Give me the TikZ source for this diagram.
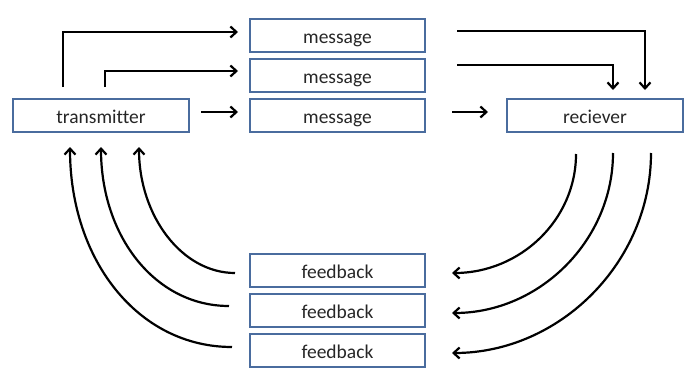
\documentclass[tikz,border=0pt]{standalone}
\usepackage{fontspec}
\setmainfont[Ligatures=NoCommon]{Carlito}
\usetikzlibrary{arrows.meta}
\begin{document}
\begin{tikzpicture}[x=1pt,y=-1pt,
  box/.style={draw=boxblue,line width=2pt,minimum height=33pt,minimum width=176pt,inner sep=0pt,text height=17pt,text depth=0pt,text=black!85,font=\fontsize{19.5}{22}\selectfont},
  conn/.style={line width=2.2pt,-{Straight Barb[length=6pt,width=11pt,line width=2.2pt]}}]
\definecolor{boxblue}{HTML}{4A6C9E}
\useasboundingbox (0,0) rectangle (691,367);
\node[box] (tx) at (101,115) {transmitter};
\node[box,minimum width=175pt] (m1) at (337.5,35) {message};
\node[box,minimum width=175pt] (m2) at (337.5,75) {message};
\node[box,minimum width=175pt] (m3) at (337.5,115) {message};
\node[box] (rx) at (595,115) {reciever};
\node[box,minimum width=175pt] (f1) at (337.5,270) {feedback};
\node[box,minimum width=175pt] (f2) at (337.5,310) {feedback};
\node[box,minimum width=175pt] (f3) at (337.5,350) {feedback};
% transmitter -> messages
\coordinate (a1) at (63,87);
\coordinate (a2) at (105,87);
\draw[conn] (a1) |- (238,32);
\draw[conn] (a2) |- (238,71);
\draw[conn] (201,112) -- (238,112);
% messages -> receiver
\draw[conn] (457,31) -| (645,90);
\draw[conn] (457,65) -| (613,90);
\draw[conn] (452,112) -- (488,112);
% receiver -> feedback
\draw[conn] (576,154) .. controls (576,220) and (520,273) .. (452,273);
\draw[conn] (613,153) .. controls (613,240) and (540,313) .. (452,313);
\draw[conn] (651,153) .. controls (651,262) and (560,353) .. (452,353);
% feedback -> transmitter
\draw[conn] (235,273) .. controls (182,273) and (139,216) .. (139,147);
\draw[conn] (229,306) .. controls (155,306) and (101,236) .. (101,147);
\draw[conn] (232,347) .. controls (138,347) and (70,260) .. (70,147);
\end{tikzpicture}
\end{document}
